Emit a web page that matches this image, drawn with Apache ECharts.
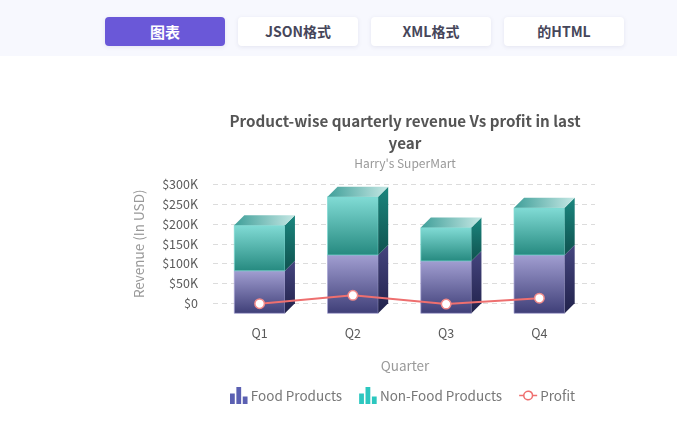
<!DOCTYPE html>
<html>
<head>
<meta charset="utf-8">
<script src="https://cdn.jsdelivr.net/npm/echarts@6/dist/echarts.min.js"></script>
<style>
html,body{margin:0;padding:0;background:#fff;width:677px;height:434px;overflow:hidden;font-family:"Noto Sans CJK SC","Noto Sans",sans-serif}
#bar{position:absolute;left:0;top:0;width:677px;height:56px;background:#f7f8fe}
.tab{position:absolute;top:17px;width:120px;height:29px;line-height:29px;text-align:center;background:#fff;border-radius:4px;box-shadow:0 1px 4px rgba(90,90,140,.12);font-size:14px;font-weight:700;color:#46465a}
.tab.on{background:#6a58d8;color:#fff;font-size:15px}
#chart{position:absolute;left:0;top:0;width:677px;height:434px}
</style>
</head>
<body>
<div id="chart"></div>
<div id="bar">
<div class="tab on" style="left:105px">图表</div>
<div class="tab" style="left:238px">JSON格式</div>
<div class="tab" style="left:371px">XML格式</div>
<div class="tab" style="left:504px">的HTML</div>
</div>
<script>
const categories = ['Q1', 'Q2', 'Q3', 'Q4'];
const foodProducts = [107000, 147000, 132000, 147000];
const nonFoodProducts = [115000, 147000, 84000, 119000];
const profit = [-1000, 20000, -2000, 13000];

const FONT = '"Noto Sans CJK SC","Noto Sans",sans-serif';
const DEPTH = 10, BAR_RATIO = 0.543;
const grad = (x2, y2, a, b) => new echarts.graphic.LinearGradient(0, 0, x2, y2, [{offset: 0, color: a}, {offset: 1, color: b}]);

function box3d(colors, showTop) {
  return function (params, api) {
    const i = api.value(0);
    const top = api.coord([i, api.value(2)]);
    const base = api.coord([i, api.value(1)]);
    const w = api.size([1, 0])[0] * BAR_RATIO;
    const x0 = top[0] - w / 2, x1 = top[0] + w / 2;
    const yT = top[1] + DEPTH, yB = base[1] + DEPTH;
    const children = [
      {type: 'rect', shape: {x: x0, y: yT, width: w, height: yB - yT},
        style: {fill: grad(0, 1, colors.frontA, colors.frontB), stroke: colors.edge, lineWidth: 1}},
      {type: 'polygon', shape: {points: [[x1, yT], [x1 + DEPTH, yT - DEPTH], [x1 + DEPTH, yB - DEPTH], [x1, yB]]},
        style: {fill: grad(0, 1, colors.sideA, colors.sideB)}}
    ];
    if (showTop) {
      children.push({type: 'polygon', shape: {points: [[x0, yT], [x0 + DEPTH, yT - DEPTH], [x1 + DEPTH, yT - DEPTH], [x1, yT]]},
        style: {fill: grad(1, 0, '#3f9f99', '#c6e8e5')}});
    }
    return {type: 'group', children};
  };
}
const foodData = categories.map((c, i) => [i, 0, foodProducts[i]]);
const nonFoodData = categories.map((c, i) => [i, foodProducts[i], foodProducts[i] + nonFoodProducts[i]]);
const encode = {x: 0, y: [1, 2]};
const barIcon = 'path://M0 6H4.5V16H0ZM6 0H10.5V16H6ZM12 9H16.5V16H12Z';
const lineIcon = 'path://M3.9 8.8H0V7.2H3.9A5.2 5.2 0 0 1 14.1 7.2H18V8.8H14.1A5.2 5.2 0 0 1 3.9 8.8ZM5.4 8A3.6 3.6 0 0 0 12.6 8A3.6 3.6 0 0 0 5.4 8Z';

const chart = echarts.init(document.getElementById('chart'));
chart.setOption({
  animation: false,
  backgroundColor: '#fff',
  textStyle: {fontFamily: FONT},
  title: {
    text: 'Product-wise quarterly revenue Vs profit in last\nyear',
    subtext: "Harry's SuperMart",
    left: 400, top: 105, textAlign: 'center', itemGap: 3,
    textStyle: {fontFamily: FONT, fontSize: 15.2, fontWeight: 700, color: '#555', lineHeight: 22},
    subtextStyle: {fontFamily: FONT, fontSize: 12, color: '#999'}
  },
  grid: [
    {left: 213, top: 184.3, width: 382, height: 119},
    {left: 213, top: 184.3, width: 373, height: 119}
  ],
  xAxis: [
    {type: 'category', gridIndex: 0, show: false, data: categories},
    {type: 'category', gridIndex: 1, data: categories, name: 'Quarter', nameLocation: 'middle', nameGap: 56,
      nameTextStyle: {fontFamily: FONT, fontSize: 13.5, color: '#999', padding: [0, 0, 0, 11]},
      axisLine: {show: false}, axisTick: {show: false},
      axisLabel: {margin: 24, fontFamily: FONT, fontSize: 12.5, color: '#5a5a5a'}}
  ],
  yAxis: [
    {type: 'value', gridIndex: 0, min: 0, max: 300000, interval: 50000,
      name: 'Revenue (In USD)', nameLocation: 'middle', nameGap: 67, nameRotate: 90,
      nameTextStyle: {fontFamily: FONT, fontSize: 13.5, color: '#999'},
      axisLine: {show: false}, axisTick: {show: false},
      axisLabel: {margin: 15, fontFamily: FONT, fontSize: 12.5, color: '#5a5a5a',
        formatter: v => v === 0 ? '$0' : '$' + v / 1000 + 'K'},
      splitLine: {show: true, lineStyle: {color: '#dcdcdc', type: [5, 4], width: 1}}},
    {type: 'value', gridIndex: 1, min: 0, max: 300000, interval: 50000, show: false, splitLine: {show: false}}
  ],
  legend: {
    left: 225, top: 382, itemGap: 17, itemWidth: 18, itemHeight: 17,
    textStyle: {fontFamily: FONT, fontSize: 13.5, color: '#777', padding: [0, 0, 0, -2]},
    data: [
      {name: 'Food Products', icon: barIcon, itemStyle: {color: '#5b60b2'}},
      {name: 'Non-Food Products', icon: barIcon, itemStyle: {color: '#2cc7bf'}},
      {name: 'Profit', icon: lineIcon, itemStyle: {color: '#ef6f6f', borderWidth: 0}}
    ]
  },
  series: [
    {name: 'Food Products', type: 'custom', xAxisIndex: 1, yAxisIndex: 1, encode, data: foodData, z: 2,
      itemStyle: {color: '#5b60b2'},
      renderItem: box3d({frontA: '#a29fd2', frontB: '#3e3e77', sideA: '#45457f', sideB: '#21224b', edge: 'rgba(162,160,210,.7)'}, false)},
    {name: 'Non-Food Products', type: 'custom', xAxisIndex: 1, yAxisIndex: 1, encode, data: nonFoodData, z: 3,
      itemStyle: {color: '#2cc7bf'},
      renderItem: box3d({frontA: '#82dcd6', frontB: '#25897f', sideA: '#1b867e', sideB: '#0f524f', edge: 'rgba(120,215,208,.7)'}, true)},
    {name: 'Profit', type: 'line', xAxisIndex: 1, yAxisIndex: 1, data: profit, z: 5, clip: false,
      symbol: 'circle', symbolSize: 9.5,
      lineStyle: {color: '#ee6f6f', width: 2},
      itemStyle: {color: '#fff', borderColor: '#f08a8a', borderWidth: 1.5}}
  ]
});
</script>
</body>
</html>
